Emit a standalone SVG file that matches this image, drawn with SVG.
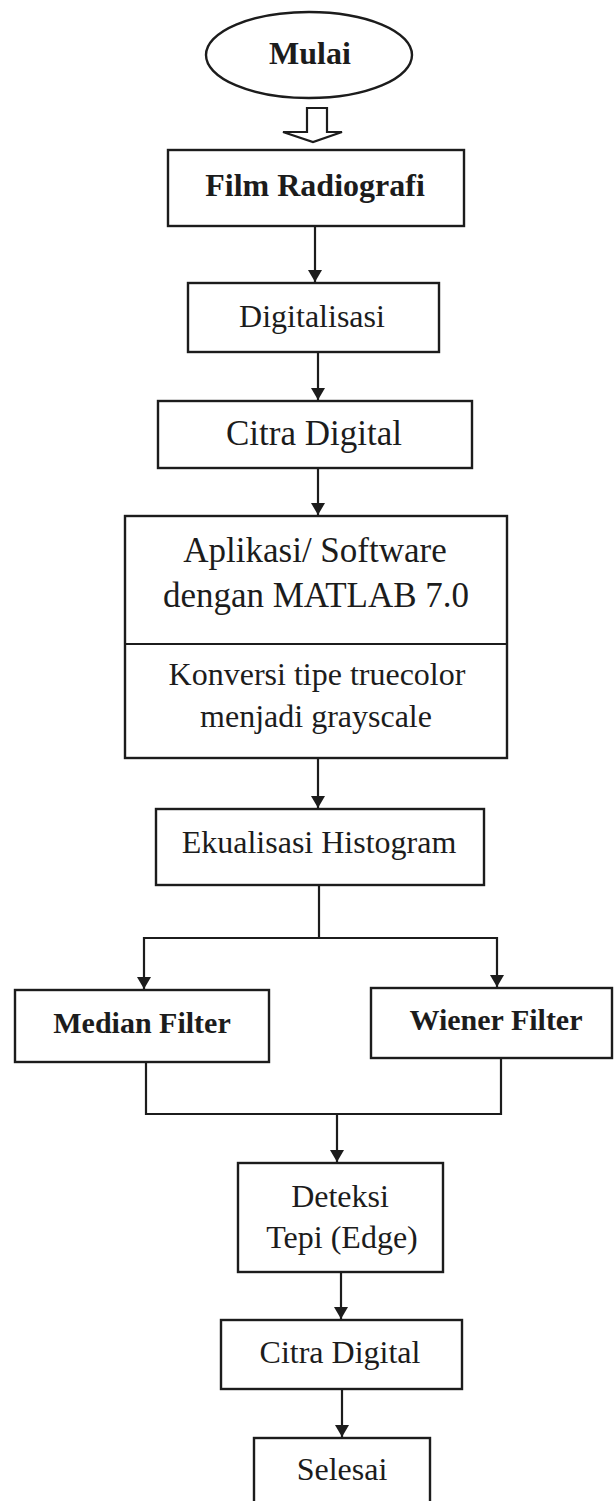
<svg xmlns="http://www.w3.org/2000/svg" width="614" height="1501" viewBox="0 0 614 1501">
<defs>
<style>
.box{fill:#fff;stroke:#1c1c1c;stroke-width:2.4}
.ln{fill:none;stroke:#1c1c1c;stroke-width:2.2}
.t{font-family:"Liberation Serif","Times New Roman",serif;fill:#1c1c1c;text-anchor:middle}
.r32{font-size:32px}
.r35{font-size:35px}
.b32{font-size:32px;font-weight:bold}
.b30{font-size:30px;font-weight:bold}
</style>
<marker id="ah" viewBox="0 0 12 14" refX="12" refY="7" markerWidth="12" markerHeight="14" markerUnits="userSpaceOnUse" orient="auto-start-reverse">
<path d="M0,0 L12,7 L0,14 Z" fill="#1c1c1c"/>
</marker>
</defs>
<rect width="614" height="1501" fill="#fff"/>

<g id="connectors">
<path class="ln" d="M307,108 L327,108 L327,132 L342,132 L313,142 L283,132 L307,132 Z" fill="#fff"/>
<line class="ln" x1="315" y1="226" x2="315" y2="282" marker-end="url(#ah)"/>
<line class="ln" x1="318" y1="352" x2="318" y2="400" marker-end="url(#ah)"/>
<line class="ln" x1="318" y1="468" x2="318" y2="515" marker-end="url(#ah)"/>
<line class="ln" x1="318" y1="758" x2="318" y2="808" marker-end="url(#ah)"/>
<polyline class="ln" points="319,885 319,938"/>
<polyline class="ln" points="144,989 144,938 497,938 497,987" marker-start="url(#ah)" marker-end="url(#ah)"/>
<polyline class="ln" points="146,1062 146,1114 501,1114 501,1058"/>
<line class="ln" x1="337" y1="1114" x2="337" y2="1162" marker-end="url(#ah)"/>
<line class="ln" x1="341" y1="1272" x2="341" y2="1319" marker-end="url(#ah)"/>
<line class="ln" x1="342" y1="1389" x2="342" y2="1437" marker-end="url(#ah)"/>
</g>

<g id="mulai">
<ellipse class="box" cx="309" cy="55" rx="103" ry="43"/>
<text class="t b32" x="310" y="64">Mulai</text>
</g>

<g id="film">
<rect class="box" x="168" y="150" width="296" height="76"/>
<text class="t b32" x="315" y="196">Film Radiografi</text>
</g>

<g id="digitalisasi">
<rect class="box" x="188" y="283" width="251" height="69"/>
<text class="t r32" x="312" y="327">Digitalisasi</text>
</g>

<g id="citra1">
<rect class="box" x="158" y="401" width="314" height="67"/>
<text class="t r35" x="314" y="445">Citra Digital</text>
</g>

<g id="aplikasi">
<rect class="box" x="125" y="516" width="382" height="242"/>
<line class="ln" x1="125" y1="644" x2="507" y2="644"/>
<text class="t r35" x="315" y="562">Aplikasi/ Software</text>
<text class="t r35" x="316" y="607">dengan MATLAB 7.0</text>
<text class="t r32" x="317" y="685">Konversi tipe truecolor</text>
<text class="t r32" x="316" y="727">menjadi grayscale</text>
</g>

<g id="ekualisasi">
<rect class="box" x="156" y="809" width="328" height="76"/>
<text class="t r32" x="319" y="853">Ekualisasi Histogram</text>
</g>

<g id="median">
<rect class="box" x="15" y="990" width="254" height="72"/>
<text class="t b30" x="142" y="1033">Median Filter</text>
</g>

<g id="wiener">
<rect class="box" x="371" y="988" width="241" height="70"/>
<text class="t b30" x="496" y="1030">Wiener Filter</text>
</g>

<g id="deteksi">
<rect class="box" x="238" y="1163" width="205" height="109"/>
<text class="t r32" x="340" y="1207">Deteksi</text>
<text class="t r32" x="342" y="1248">Tepi (Edge)</text>
</g>

<g id="citra2">
<rect class="box" x="221" y="1320" width="241" height="69"/>
<text class="t r32" x="340" y="1363">Citra Digital</text>
</g>

<g id="selesai">
<rect class="box" x="254" y="1438" width="176" height="80"/>
<text class="t r32" x="342" y="1480">Selesai</text>
</g>
</svg>
